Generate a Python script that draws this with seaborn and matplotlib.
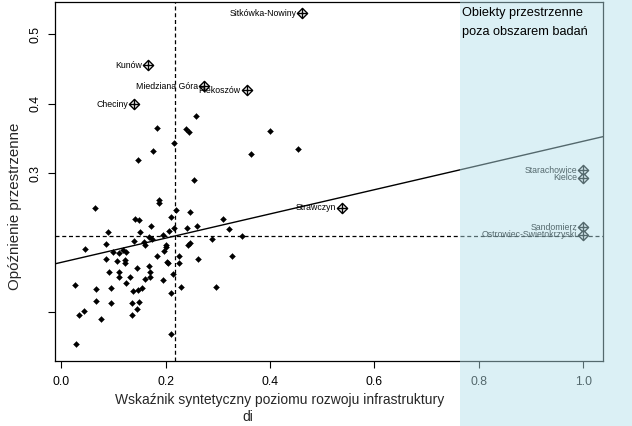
import matplotlib
matplotlib.use("Agg")
import matplotlib.pyplot as plt
import numpy as np
import pandas as pd
import seaborn as sns
from matplotlib.patches import Rectangle

# ---- data ----
# ordinary gminas: synthetic infrastructure index (di) vs spatial lag
di = [0.258, 0.184, 0.2395, 0.244, 0.216, 0.175, 0.147, 0.2536, 0.187, 0.187,
      0.064, 0.219, 0.246, 0.1418, 0.148, 0.2107, 0.1724, 0.216, 0.240, 0.2594,
      0.399, 0.363, 0.453, 0.310, 0.322, 0.288, 0.347, 0.327, 0.296, 0.2625,
      0.090, 0.150, 0.1954, 0.207, 0.085, 0.1387, 0.158, 0.160, 0.1686, 0.1747,
      0.046, 0.201, 0.201, 0.197, 0.0996, 0.111, 0.1176, 0.124, 0.2475, 0.2433,
      0.085, 0.106, 0.1215, 0.1226, 0.1828, 0.202, 0.205, 0.226, 0.226, 0.0914,
      0.111, 0.111, 0.1456, 0.1686, 0.170, 0.170, 0.1316, 0.160, 0.1948, 0.214,
      0.124, 0.026, 0.067, 0.095, 0.1368, 0.147, 0.155, 0.2287, 0.2096, 0.067,
      0.095, 0.1349, 0.1494, 0.1456, 0.136, 0.043, 0.0333, 0.076, 0.2107, 0.0276]
lag = [0.382, 0.365, 0.3633, 0.3594, 0.3436, 0.3317, 0.3183, 0.2895, 0.2612, 0.2573,
       0.2496, 0.2468, 0.2435, 0.2342, 0.2328, 0.2367, 0.2242, 0.2204, 0.2213, 0.2242,
       0.3604, 0.3273, 0.3341, 0.2338, 0.2201, 0.2046, 0.2089, 0.181, 0.136, 0.1758,
       0.2155, 0.2155, 0.2108, 0.2165, 0.1978, 0.2017, 0.2003, 0.1964, 0.2083, 0.2053,
       0.1906, 0.1964, 0.1935, 0.1878, 0.1859, 0.1849, 0.1888, 0.1868, 0.200, 0.1964,
       0.1758, 0.1734, 0.1741, 0.1712, 0.181, 0.1724, 0.1709, 0.181, 0.1709, 0.158,
       0.158, 0.1508, 0.1637, 0.1658, 0.158, 0.1508, 0.1499, 0.1475, 0.146, 0.1547,
       0.1413, 0.1388, 0.1327, 0.1341, 0.1307, 0.1317, 0.1341, 0.136, 0.1269, 0.1163,
       0.1125, 0.1134, 0.114, 0.1047, 0.0957, 0.1019, 0.0957, 0.0904, 0.0679, 0.054]

# labelled gminas inside the study area
named = ["Sitkówka-Nowiny", "Kunów", "Miedziana Góra", "Piekoszów", "Checiny", "Strawczyn"]
named_di = [0.462, 0.167, 0.273, 0.355, 0.139, 0.538]
named_lag = [0.530, 0.455, 0.425, 0.419, 0.399, 0.250]

# objects outside the study area
out_names = ["Starachowice", "Kielce", "Sandomierz", "Ostrowiec-Swietokrzyski"]
out_di = [1.0, 1.0, 1.0, 1.0]
out_lag = [0.304, 0.293, 0.222, 0.211]

# means and regression slope (Moran scatterplot)
di_mean = 0.218
lag_mean = 0.2094
slope = 0.1743

xticks = [0.0, 0.2, 0.4, 0.6, 0.8, 1.0]
xtick_labels = ["0.0", "0.2", "0.4", "0.6", "0.8", "1.0"]
yticks = [0.1, 0.3, 0.4, 0.5]
ytick_labels = ["", "0.3", "0.4", "0.5"]

# ---- style ----
sns.set_theme(style="white")
plt.rcParams["font.family"] = ["Liberation Sans", "DejaVu Sans"]

W, H = 632, 426
fig = plt.figure(figsize=(W / 100, H / 100), dpi=100)
ax = fig.add_axes([55 / W, 1 - 360.5 / H, (603 - 55) / W, (360.5 - 1.5) / H])

df = pd.DataFrame({"di": di, "lag": lag})
dfn = pd.DataFrame({"di": named_di + out_di, "lag": named_lag + out_lag,
                    "name": named + out_names})

# reference lines
ax.axvline(di_mean, color="black", lw=0.9, ls=(0, (3.2, 2.2)), zorder=1)
ax.axhline(lag_mean, color="black", lw=0.9, ls=(0, (3.2, 2.2)), zorder=1)
ax.axline((di_mean, lag_mean), slope=slope, color="black", lw=1.0, zorder=1)

sns.scatterplot(data=df, x="di", y="lag", marker="D", s=9, color="black",
                edgecolor="black", linewidth=0.3, ax=ax, zorder=3)
sns.scatterplot(data=dfn, x="di", y="lag", marker="D", s=27, facecolor="white",
                edgecolor="black", linewidth=1.0, ax=ax, zorder=4)
sns.scatterplot(data=dfn, x="di", y="lag", marker="+", s=52, color="black",
                linewidth=1.0, ax=ax, zorder=5)

for _, r in dfn.iterrows():
    ax.annotate(r["name"], (r["di"], r["lag"]), xytext=(-4.2, 0),
                textcoords="offset points", ha="right", va="center",
                fontsize=6.3, color="black", zorder=6)

ax.set_xlim(-0.012, 1.038)
ax.set_ylim(0.0302, 0.5468)
ax.set_xticks(xticks)
ax.set_xticklabels(xtick_labels)
ax.set_yticks(yticks)
ax.set_yticklabels(ytick_labels, rotation=90, va="center")
ax.set_xlabel("")
ax.set_ylabel("")
ax.tick_params(axis="both", direction="out", length=5, width=0.8, color="black",
               labelsize=8.8, labelcolor="black", bottom=True, left=True)
ax.tick_params(axis="x", pad=6)
ax.tick_params(axis="y", pad=5)
for sp in ax.spines.values():
    sp.set_color("black")
    sp.set_linewidth(0.9)

fig.text(280 / W, 1 - 400 / H, "Wskaźnik syntetyczny poziomu rozwoju infrastruktury",
         ha="center", va="center", fontsize=10)
fig.text(248 / W, 1 - 417 / H, "di", ha="center", va="center", fontsize=10)
fig.text(15 / W, 1 - 206 / H, "Opóźnienie przestrzenne", rotation=90,
         ha="center", va="center", fontsize=10.8)

# shaded overlay for objects outside the study area
fig.patches.append(Rectangle((460 / W, 0), (W - 460) / W, 1, transform=fig.transFigure,
                             facecolor="#b4e0ea", alpha=0.47, edgecolor="none", zorder=10))
fig.text(462 / W, 1 - 13 / H, "Obiekty przestrzenne", ha="left", va="center",
         fontsize=9.2, color="black", zorder=11)
fig.text(462 / W, 1 - 32 / H, "poza obszarem badań", ha="left", va="center",
         fontsize=9.2, color="black", zorder=11)

fig.savefig("out.png", dpi=100)
